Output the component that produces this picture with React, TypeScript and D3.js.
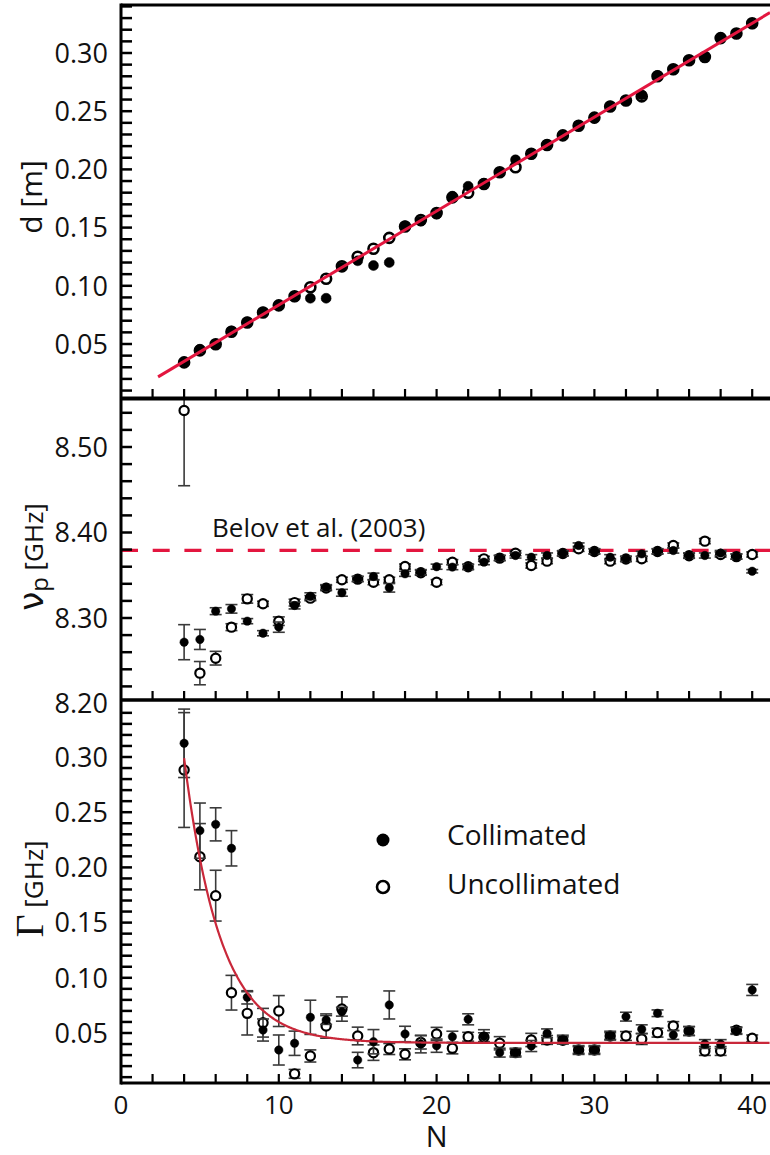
import React from 'react';
import * as d3 from 'd3';

// ---------- data ----------
const N = [4, 5, 6, 7, 8, 9, 10, 11, 12, 13, 14, 15, 16, 17, 18, 19, 20, 21, 22, 23, 24, 25, 26, 27, 28, 29, 30, 31, 32, 33, 34, 35, 36, 37, 38, 39, 40];

const dCollimated = [0.0345, 0.0455, 0.0500, 0.0612, 0.0690, 0.0775, 0.0830, 0.0905, 0.0893, 0.0893, 0.1160, 0.1215, 0.1174, 0.1200, 0.1515, 0.1555, 0.1615, 0.1770, 0.1855, 0.1880, 0.1975, 0.2082, 0.2130, 0.2214, 0.2290, 0.2378, 0.2440, 0.2545, 0.2590, 0.2640, 0.2807, 0.2856, 0.2935, 0.2964, 0.3130, 0.3166, 0.3250];
const dUncollimated = [0.0342, 0.0445, 0.0498, 0.0605, 0.0685, 0.0770, 0.0832, 0.0910, 0.0988, 0.1060, 0.1168, 0.1250, 0.1318, 0.1412, 0.1510, 0.1565, 0.1625, 0.1760, 0.1800, 0.1875, 0.1975, 0.2019, 0.2135, 0.2210, 0.2292, 0.2375, 0.2445, 0.2540, 0.2592, 0.2627, 0.2800, 0.2860, 0.2938, 0.2965, 0.3128, 0.3168, 0.3255];
const dError = 0.0015;

const nuCollimated = [8.2717, 8.2749, 8.3080, 8.3107, 8.2963, 8.2822, 8.2893, 8.3146, 8.3255, 8.3360, 8.3295, 8.3458, 8.3485, 8.3353, 8.3517, 8.3536, 8.3600, 8.3595, 8.3595, 8.3653, 8.3704, 8.3731, 8.3711, 8.3731, 8.3758, 8.3848, 8.3781, 8.3711, 8.3692, 8.3750, 8.3781, 8.3789, 8.3731, 8.3731, 8.3760, 8.3720, 8.3547];
const nuCollimatedErr = [0.0205, 0.0117, 0.004, 0.005, 0.003, 0.003, 0.006, 0.004, 0.004, 0.003, 0.004, 0.003, 0.004, 0.005, 0.003, 0.003, 0.003, 0.003, 0.003, 0.003, 0.003, 0.003, 0.003, 0.003, 0.003, 0.003, 0.003, 0.003, 0.003, 0.003, 0.003, 0.003, 0.003, 0.003, 0.003, 0.003, 0.002];
const nuUncollimated = [8.5427, 8.2355, 8.2530, 8.2893, 8.3224, 8.3166, 8.2963, 8.3180, 8.3232, 8.3350, 8.3447, 8.3455, 8.3419, 8.3447, 8.3602, 8.3530, 8.3419, 8.3653, 8.3600, 8.3692, 8.3700, 8.3758, 8.3614, 8.3665, 8.3755, 8.3809, 8.3778, 8.3665, 8.3690, 8.3692, 8.3778, 8.3848, 8.3728, 8.3899, 8.3743, 8.3718, 8.3743];
const nuUncollimatedErr = [0.088, 0.0136, 0.008, 0.004, 0.005, 0.003, 0.005, 0.004, 0.003, 0.003, 0.003, 0.003, 0.003, 0.003, 0.003, 0.003, 0.003, 0.003, 0.003, 0.003, 0.003, 0.003, 0.003, 0.003, 0.003, 0.003, 0.003, 0.003, 0.003, 0.003, 0.003, 0.003, 0.003, 0.003, 0.003, 0.003, 0.003];
const belovNu = 8.379;

const gammaCollimated = [0.3124, 0.2333, 0.2390, 0.2173, 0.0823, 0.0527, 0.0346, 0.0407, 0.0642, 0.0618, 0.0693, 0.0255, 0.0421, 0.0754, 0.0491, 0.0400, 0.0385, 0.0466, 0.0624, 0.0470, 0.0322, 0.0322, 0.0382, 0.0497, 0.0440, 0.0346, 0.0346, 0.0476, 0.0648, 0.0534, 0.0679, 0.0482, 0.0518, 0.0400, 0.0400, 0.0518, 0.0890];
const gammaCollimatedErr = [0.031, 0.025, 0.015, 0.016, 0.006, 0.010, 0.0136, 0.011, 0.0155, 0.004, 0.004, 0.007, 0.011, 0.0127, 0.007, 0.008, 0.006, 0.005, 0.005, 0.006, 0.004, 0.004, 0.005, 0.004, 0.004, 0.004, 0.004, 0.004, 0.004, 0.004, 0.003, 0.004, 0.004, 0.004, 0.004, 0.003, 0.005];
const gammaUncollimated = [0.2882, 0.2097, 0.1744, 0.0865, 0.0678, 0.0593, 0.0699, 0.0130, 0.0292, 0.0563, 0.0717, 0.0473, 0.0322, 0.0355, 0.0307, 0.0415, 0.0491, 0.0361, 0.0466, 0.0462, 0.0407, 0.0322, 0.0437, 0.0437, 0.0435, 0.0346, 0.0346, 0.0473, 0.0473, 0.0446, 0.0503, 0.0563, 0.0518, 0.0337, 0.0337, 0.0525, 0.0452];
const gammaUncollimatedErr = [0.052, 0.030, 0.023, 0.0157, 0.0196, 0.013, 0.014, 0.004, 0.0055, 0.011, 0.011, 0.008, 0.007, 0.005, 0.005, 0.006, 0.006, 0.005, 0.004, 0.004, 0.006, 0.003, 0.006, 0.004, 0.003, 0.003, 0.003, 0.003, 0.004, 0.005, 0.004, 0.004, 0.004, 0.004, 0.004, 0.003, 0.003];

// fit parameters
const dFit = { slope: 0.00807, intercept: 0.0028, from: 2.35 };
const gammaFit = { amp: 0.258, tau: 2.3, floor: 0.041, from: 4 };

// tick labels
const xTickLabels = [0, 10, 20, 30, 40];
const dTickLabels = [0.05, 0.10, 0.15, 0.20, 0.25, 0.30];
const nuTickLabels = [8.20, 8.30, 8.40, 8.50];
const gammaTickLabels = [0.05, 0.10, 0.15, 0.20, 0.25, 0.30];

// ---------- layout ----------
const W = 770;
const H = 1155;
const LEFT = 121;
const RIGHT = 770;
const FONT = "'Open Sans', 'DejaVu Sans', sans-serif";

const x = d3.scaleLinear().domain([0, 40]).range([121, 752.2]);
const xMax = x.invert(RIGHT);

const panels = {
  d: { top: 5, bottom: 398 },
  nu: { top: 399, bottom: 700 },
  g: { top: 700, bottom: 1083 },
};

const yD = d3.scaleLinear().domain([0.30, 0.05]).range([53, 344]);
const yNu = d3.scaleLinear().domain([8.50, 8.30]).range([447, 618]);
const yG = d3.scaleLinear().domain([0.30, 0.05]).range([757, 1033]);

const xTicks = d3.range(2, 41, 2);
const dMinor = d3.range(1, 35).map((i) => i / 100);
const nuMinor = d3.range(0, 17).map((i) => 8.22 + i * 0.02);
const gMinor = d3.range(1, 35).map((i) => i / 100);

type Series = {
  values: number[];
  errs: number[] | number;
  filled: boolean;
};

function Markers({ y, series, r, capW, markerStroke }: { y: d3.ScaleLinear<number, number>; series: Series; r: number; capW: number; markerStroke: number }) {
  const { values, errs, filled } = series;
  return (
    <g>
      {values.map((v, i) => {
        const e = typeof errs === 'number' ? errs : errs[i];
        const cx = x(N[i]);
        const y0 = y(v - e);
        const y1 = y(v + e);
        return (
          <g key={'e' + i} stroke="#3a3a3a" strokeWidth={1.6}>
            <line x1={cx} x2={cx} y1={y0} y2={y1} />
            <line x1={cx - capW / 2} x2={cx + capW / 2} y1={y0} y2={y0} />
            <line x1={cx - capW / 2} x2={cx + capW / 2} y1={y1} y2={y1} />
          </g>
        );
      })}
      {values.map((v, i) => (
        <circle
          key={'c' + i}
          cx={x(N[i])}
          cy={y(v)}
          r={r}
          fill={filled ? '#000' : '#fff'}
          stroke="#000"
          strokeWidth={filled ? 0.5 : markerStroke}
        />
      ))}
    </g>
  );
}

function Frame({ top, bottom, y, minor, labels, fmt }: { top: number; bottom: number; y: d3.ScaleLinear<number, number>; minor: number[]; labels: number[]; fmt: (v: number) => string }) {
  return (
    <g>
      {minor.map((v, i) => (
        <line key={'m' + i} x1={LEFT} x2={LEFT + 11} y1={y(v)} y2={y(v)} stroke="#000" strokeWidth={2.5} />
      ))}
      {xTicks.map((t, i) => (
        <line key={'x' + i} x1={x(t)} x2={x(t)} y1={bottom} y2={bottom - 9} stroke="#000" strokeWidth={2.2} />
      ))}
      <line x1={LEFT} x2={RIGHT} y1={top} y2={top} stroke="#000" strokeWidth={3} />
      <line x1={LEFT} x2={RIGHT} y1={bottom} y2={bottom} stroke="#000" strokeWidth={3} />
      {labels.map((v, i) => (
        <text key={'l' + i} x={108} y={y(v)} dy="0.36em" textAnchor="end" fontSize={27} fontFamily={FONT} fill="#111">
          {fmt(v)}
        </text>
      ))}
    </g>
  );
}

export default function App() {
  const fmt2 = d3.format('.2f');

  const dLine = d3.line<number>().x((n) => x(n)).y((n) => yD(dFit.intercept + dFit.slope * n));
  const gSamples = d3.range(gammaFit.from, xMax, 0.05);
  const gLine = d3
    .line<number>()
    .x((n) => x(n))
    .y((n) => yG(gammaFit.floor + gammaFit.amp * Math.exp(-(n - gammaFit.from) / gammaFit.tau)));

  return (
    <div style={{ position: 'absolute', left: 0, top: 0, width: W, height: H, background: '#fff' }}>
      <svg width={W} height={H} viewBox={`0 0 ${W} ${H}`} style={{ display: 'block' }}>
        <defs>
          <clipPath id="clipD"><rect x={LEFT} y={panels.d.top} width={RIGHT - LEFT} height={panels.d.bottom - panels.d.top} /></clipPath>
          <clipPath id="clipNu"><rect x={LEFT} y={panels.nu.top} width={RIGHT - LEFT} height={panels.nu.bottom - panels.nu.top} /></clipPath>
          <clipPath id="clipG"><rect x={LEFT} y={panels.g.top} width={RIGHT - LEFT} height={panels.g.bottom - panels.g.top} /></clipPath>
        </defs>
        <rect x={0} y={0} width={W} height={H} fill="#fff" />

        {/* ---------- top panel: d ---------- */}
        <g clipPath="url(#clipD)">
          <Markers y={yD} series={{ values: dUncollimated, errs: dError, filled: false }} r={5} capW={9} markerStroke={2.6} />
          <Markers y={yD} series={{ values: dCollimated, errs: dError, filled: true }} r={5} capW={9} markerStroke={2.6} />
          <path d={dLine([dFit.from, xMax]) || ''} fill="none" stroke="#e3163f" strokeWidth={3} />
        </g>
        <Frame top={panels.d.top} bottom={panels.d.bottom} y={yD} minor={dMinor} labels={dTickLabels} fmt={fmt2} />

        {/* ---------- middle panel: nu_p ---------- */}
        <g clipPath="url(#clipNu)">
          <line x1={LEFT} x2={RIGHT} y1={yNu(belovNu)} y2={yNu(belovNu)} stroke="#e3163f" strokeWidth={3.2} strokeDasharray="17 14.7" />
          <Markers y={yNu} series={{ values: nuUncollimated, errs: nuUncollimatedErr, filled: false }} r={4.6} capW={12} markerStroke={2.2} />
          <Markers y={yNu} series={{ values: nuCollimated, errs: nuCollimatedErr, filled: true }} r={4.2} capW={12} markerStroke={2.2} />
        </g>
        <text x={212} y={537} fontSize={26} fontFamily={FONT} fill="#111">Belov et al. (2003)</text>
        <Frame top={panels.nu.top} bottom={panels.nu.bottom} y={yNu} minor={nuMinor} labels={nuTickLabels} fmt={fmt2} />

        {/* ---------- bottom panel: Gamma ---------- */}
        <g clipPath="url(#clipG)">
          <Markers y={yG} series={{ values: gammaUncollimated, errs: gammaUncollimatedErr, filled: false }} r={4.6} capW={12} markerStroke={2.2} />
          <Markers y={yG} series={{ values: gammaCollimated, errs: gammaCollimatedErr, filled: true }} r={4.2} capW={12} markerStroke={2.2} />
          <path d={gLine(gSamples) || ''} fill="none" stroke="#c9283a" strokeWidth={2.2} />
        </g>
        <Frame top={panels.g.top} bottom={panels.g.bottom} y={yG} minor={gMinor} labels={gammaTickLabels} fmt={fmt2} />

        {/* legend */}
        <circle cx={383} cy={840} r={6.5} fill="#000" />
        <circle cx={383} cy={887} r={6} fill="#fff" stroke="#000" strokeWidth={2.6} />
        <text x={447} y={835} dy="0.36em" fontSize={28} fontFamily={FONT} fill="#111">Collimated</text>
        <text x={447} y={884} dy="0.36em" fontSize={28} fontFamily={FONT} fill="#111">Uncollimated</text>

        {/* left axis line */}
        <line x1={LEFT} x2={LEFT} y1={panels.d.top - 1.5} y2={panels.g.bottom + 1.5} stroke="#000" strokeWidth={3} />

        {/* x tick labels */}
        {xTickLabels.map((t) => (
          <text key={t} x={x(t)} y={1114} textAnchor="middle" fontSize={26} fontFamily={FONT} fill="#111">{t}</text>
        ))}
        <text x={x(20)} y={1147} textAnchor="middle" fontSize={29} fontFamily={FONT} fill="#111">N</text>

        {/* y titles */}
        <text transform="translate(42,197) rotate(-90)" textAnchor="middle" fontSize={30} fontFamily={FONT} fill="#111">d [m]</text>
        <text transform="translate(43,557) rotate(-90)" textAnchor="middle" fontFamily={FONT} fill="#111">
          <tspan fontSize={34} fontFamily="'DejaVu Sans', sans-serif">ν</tspan>
          <tspan fontSize={24} dy={5}>p</tspan>
          <tspan fontSize={26} dy={-5}> [GHz]</tspan>
        </text>
        <text transform="translate(43,889) rotate(-90)" textAnchor="middle" fill="#111">
          <tspan fontSize={40} fontFamily="'Liberation Serif', 'DejaVu Serif', serif">Γ</tspan>
          <tspan fontSize={26} fontFamily={FONT}> [GHz]</tspan>
        </text>
      </svg>
    </div>
  );
}
